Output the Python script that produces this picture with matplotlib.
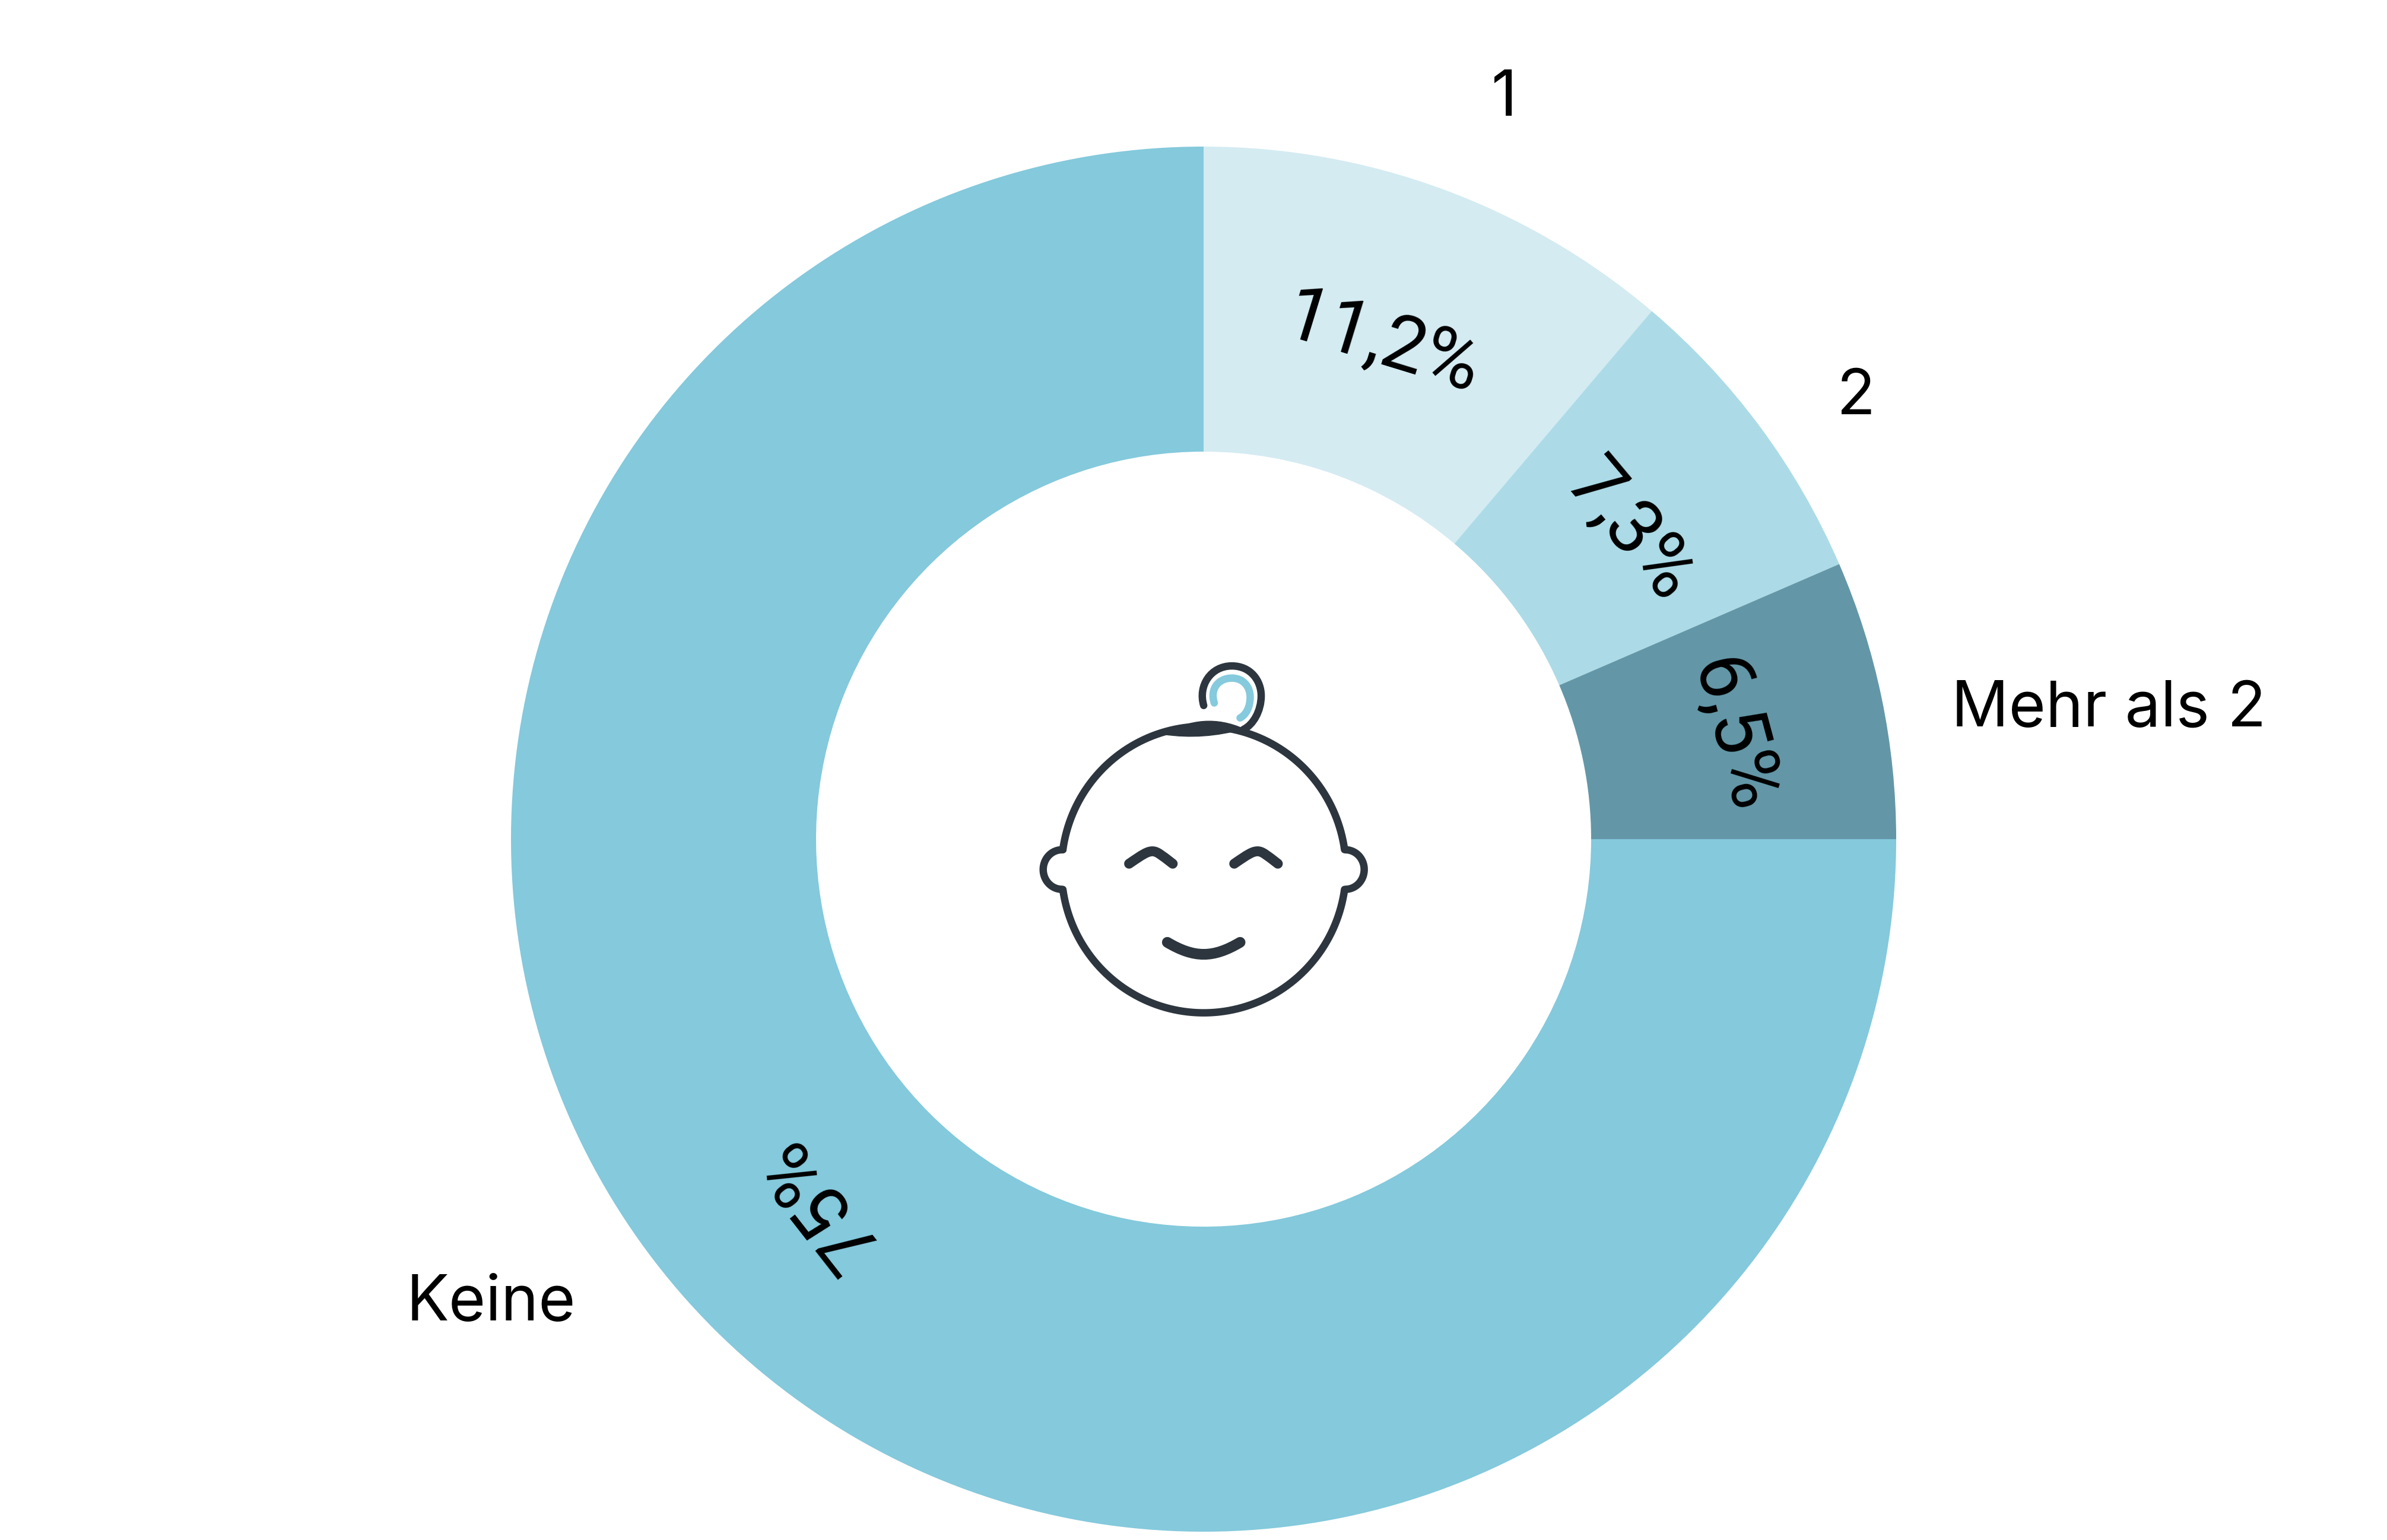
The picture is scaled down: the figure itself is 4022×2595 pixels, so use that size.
#!/usr/bin/env python
"""Donut chart: number of children, with a baby face icon in the hole."""

import numpy as np
import matplotlib
matplotlib.use("Agg")
import matplotlib.pyplot as plt
from matplotlib.path import Path
from matplotlib.patches import PathPatch

categories = ["1", "2", "Mehr als 2", "Keine"]
values = [11.2, 7.3, 6.5, 75.0]
value_labels = ["11,2%", "7,3%", "6,5%", "75%"]

W, H = 4023, 2595
CX, CY = 2028, H - 1414
R_OUT, R_IN = 1167, 653
slice_colors = ["#D4EBF2", "#ACDBE7", "#6397A7", "#84C9DC"]
INK = "#2D363E"
BLUE = "#85CADD"

fig = plt.figure(figsize=(W / 100, H / 100), dpi=100, facecolor="white")
ax = fig.add_axes([0, 0, 1, 1])

wedges, _ = ax.pie(values, startangle=90, counterclock=False, colors=slice_colors,
                   center=(CX, CY), radius=R_OUT, frame=False,
                   wedgeprops=dict(width=R_OUT - R_IN, linewidth=0))
ax.set_xlim(0, W)
ax.set_ylim(0, H)
ax.set_aspect("equal")
ax.axis("off")

# value labels sit in the middle of the ring, turned with the slice
# (Liberation's 1 has a foot, the original's does not, hence Roboto)
rotations = [-17, -50, -75, 128]
nudges = [(-13, -20), (-13, -23), (0, -10), (-5, 31)]
for w, txt, rot, (nx, ny) in zip(wedges, value_labels, rotations, nudges):
    a = np.deg2rad((w.theta1 + w.theta2) / 2)
    rm = (R_OUT + R_IN) / 2
    ax.text(CX + rm * np.cos(a) + nx, CY + rm * np.sin(a) + ny, txt, rotation=rot,
            rotation_mode="anchor", ha="center", va="center", fontsize=93,
            family="Roboto", color="black")

# category labels outside the ring
label_xy = [(2535, 167), (3128, 670), (3553, 1196), (827, 2197)]
for txt, (px, py) in zip(categories, label_xy):
    ax.text(px, H - py, txt, ha="center", va="center", fontsize=77,
            family="Inter", color="black")


# icon, traced in the pixel grid of a 620x670 crop scaled to 1568x1568
def ix(x):
    return 1700 + np.asarray(x) * 620 / 1568


def iy(y):
    return H - (1070 + np.asarray(y) * 670 / 1568)


def stroke(points, codes, lw, color=INK):
    pts = np.column_stack([ix([p[0] for p in points]), iy([p[1] for p in points])])
    ax.add_patch(PathPatch(Path(pts, codes), fill=False, edgecolor=color, linewidth=lw,
                           capstyle="round", joinstyle="round"))


def curve4(points, lw, color=INK):
    codes = [Path.MOVETO] + [Path.CURVE4] * (len(points) - 1)
    stroke(points, codes, lw, color)


# head outline with ears
hx, hy, rx, ry = 830, 925, 606, 565
t = np.deg2rad(np.linspace(172, 8, 90))
top = [(hx + rx * np.cos(a), hy - ry * np.sin(a)) for a in t]
t = np.deg2rad(np.linspace(-8, -172, 90))
bottom = [(hx + rx * np.cos(a), hy - ry * np.sin(a)) for a in t]
e = np.deg2rad(np.linspace(90, -90, 30))
right_ear = [(hx + rx - 2 + 80 * np.cos(a), hy - 78 * np.sin(a)) for a in e]
e = np.deg2rad(np.linspace(-90, -270, 30))
left_ear = [(hx - rx + 2 + 80 * np.cos(a), hy - 78 * np.sin(a)) for a in e]
outline = top + right_ear + bottom + left_ear
outline.append(outline[0])
stroke(outline, [Path.MOVETO] + [Path.LINETO] * (len(outline) - 1), 9)

# hair cap
cap = [(660, 392), (830, 300), (1000, 370), (1000, 370), (830, 415), (660, 392), (660, 392)]
cap_pts = np.column_stack([ix([p[0] for p in cap]), iy([p[1] for p in cap])])
ax.add_patch(PathPatch(Path(cap_pts, [Path.MOVETO, Path.CURVE3, Path.CURVE3, Path.LINETO,
                                      Path.CURVE3, Path.CURVE3, Path.CLOSEPOLY]),
                       facecolor=INK, edgecolor=INK, linewidth=1))

# curl
curve4([(830, 278), (805, 200), (860, 122), (950, 122),
        (1030, 122), (1075, 180), (1075, 240),
        (1075, 300), (1040, 355), (1000, 372)], 9)
curve4([(875, 268), (855, 210), (895, 170), (950, 170),
        (1000, 170), (1028, 205), (1028, 245),
        (1028, 285), (1010, 315), (985, 327)], 9, BLUE)

# eyes and mouth
for dx in (0, 448):
    curve4([(512 + dx, 902), (570 + dx, 865), (590 + dx, 853), (612 + dx, 853),
            (632 + dx, 853), (650 + dx, 868), (698 + dx, 902)], 12)
curve4([(675, 1212), (790, 1275), (870, 1275), (985, 1212)], 13)

fig.savefig("out.png", dpi=100, facecolor="white")
